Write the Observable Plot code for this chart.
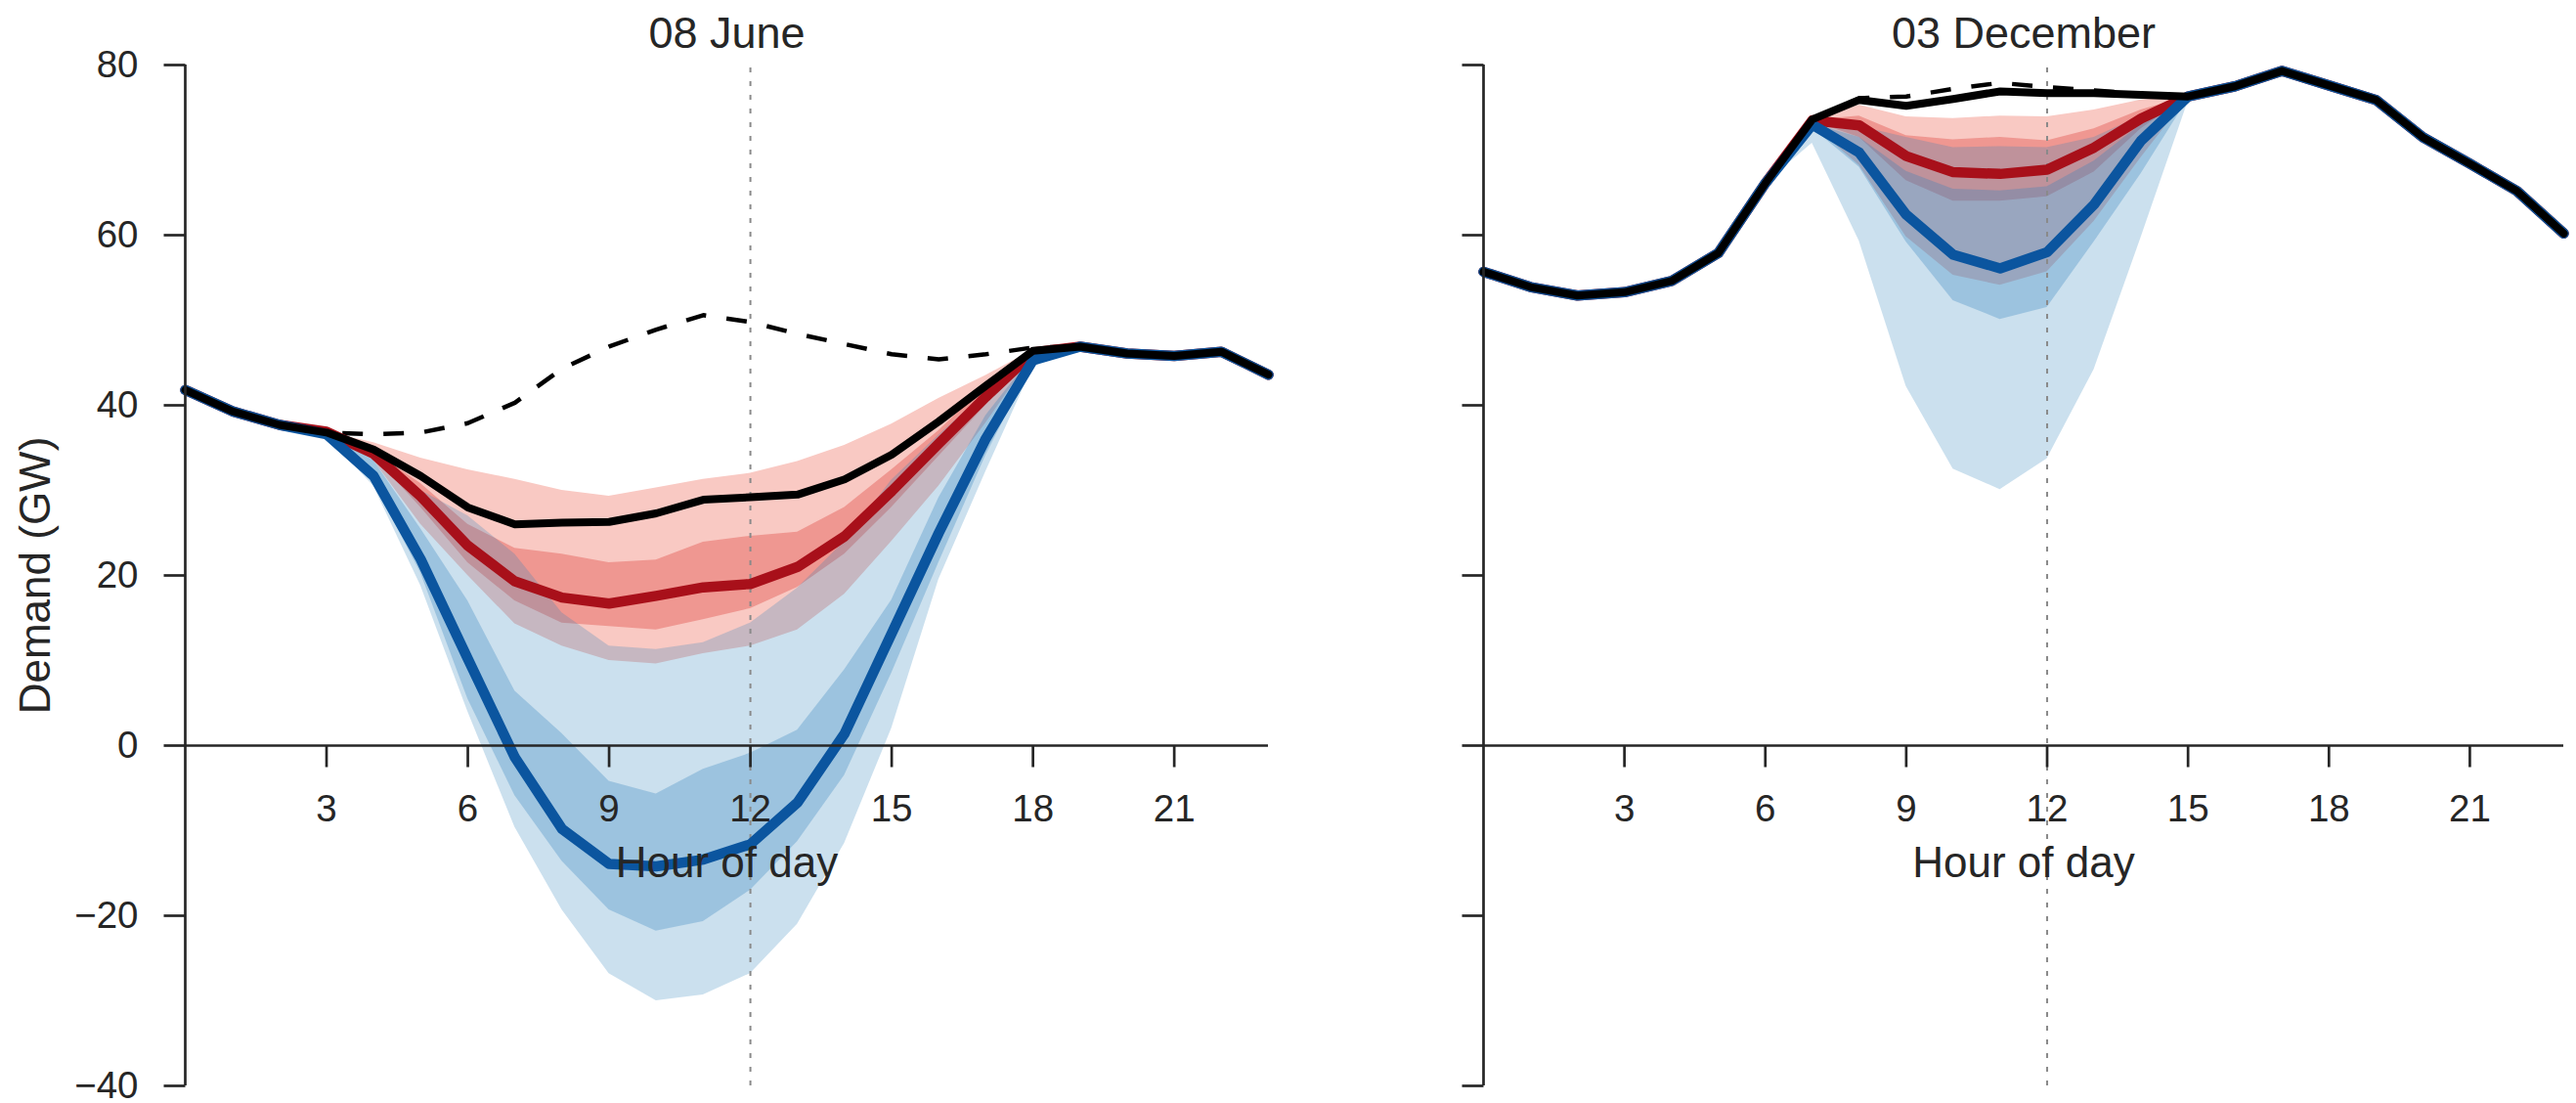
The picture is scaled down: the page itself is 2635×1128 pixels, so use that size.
<!DOCTYPE html>
<html>
<head>
<meta charset="utf-8">
<script src="https://cdn.jsdelivr.net/npm/d3@7"></script>
<script src="https://cdn.jsdelivr.net/npm/@observablehq/plot@0.6"></script>
<style>
  html, body { margin: 0; padding: 0; background: #fff; overflow: hidden; }
  #wrap { display: flex; width: 2635px; height: 1128px; }
  #wrap svg { display: block; }
</style>
</head>
<body>
<div id="wrap"></div>
<script>
// ---------- data ----------
const hours = d3.range(24);
const yTicks = [-40, -20, 0, 20, 40, 60, 80];
const xTicks = [3, 6, 9, 12, 15, 18, 21];
const noonMarker = [12];
const panelTitles = ["08 June", "03 December"];
const xLabel = "Hour of day";
const yLabel = "Demand (GW)";
const _ = null;

// 08 June
const juneBlack = [41.8,39.3,37.7,36.8,34.8,31.7,28.0,26.0,26.2,26.3,27.3,28.9,29.2,29.5,31.3,34.2,38.1,42.3,46.4,46.9,46.1,45.8,46.3,43.6];
const juneBase  = [41.8,39.3,37.7,36.8,36.6,36.8,37.9,40.3,44.3,46.9,48.9,50.6,49.8,48.4,47.2,46.0,45.4,46.0,46.8,46.9,46.1,45.8,46.3,43.6];
const juneRed   = [41.8,39.3,37.7,36.9,34.3,29.3,23.5,19.3,17.4,16.7,17.6,18.6,19.0,21.0,24.6,29.9,35.5,41.0,46.2,46.9,46.1,45.8,46.3,43.6];
const juneBlue  = [41.8,39.3,37.7,36.6,31.7,21.9,10.2,-1.4,-9.8,-13.9,-14.2,-13.4,-11.6,-6.7,1.4,13.2,25.0,36.1,45.3,46.9,46.1,45.8,46.3,43.6];
const juneRedOuterHi  = [_,_,_,36.9,35.6,33.8,32.4,31.3,30.0,29.3,30.3,31.3,32.0,33.4,35.3,37.8,40.8,43.5,46.5,46.9,_,_,_,_];
const juneRedInnerHi  = [_,_,_,36.9,34.6,30.8,26.0,23.2,22.5,21.5,21.8,23.9,24.6,25.1,28.0,32.4,37.0,42.3,46.4,46.9,_,_,_,_];
const juneRedInnerLo  = [_,_,_,36.9,34.0,28.0,21.5,17.0,14.4,14.0,13.6,14.8,16.1,18.6,22.5,28.0,34.0,40.0,46.0,46.9,_,_,_,_];
const juneRedOuterLo  = [_,_,_,36.9,33.5,26.0,20.0,14.3,11.7,10.0,9.6,10.8,11.7,13.6,17.8,24.0,30.5,37.9,45.8,46.9,_,_,_,_];
const juneBlueOuterHi = [_,_,_,36.8,34.5,30.0,27.0,22.5,15.6,11.7,11.3,12.1,14.4,18.5,24.0,31.2,36.5,41.5,46.3,46.9,_,_,_,_];
const juneBlueInnerHi = [_,_,_,36.7,33.5,25.5,17.0,6.4,1.4,-4.2,-5.7,-2.8,-0.9,1.8,8.9,17.1,29.1,38.8,45.8,46.9,_,_,_,_];
const juneBlueInnerLo = [_,_,_,36.5,31.0,20.3,5.5,-5.9,-13.6,-19.3,-21.8,-20.7,-17.0,-11.3,-3.5,8.5,21.5,34.1,45.0,46.9,_,_,_,_];
const juneBlueOuterLo = [_,_,_,36.4,30.5,18.8,4.0,-9.6,-19.3,-26.8,-30.0,-29.3,-26.8,-21.0,-11.5,2.0,19.5,32.2,44.5,46.9,_,_,_,_];

// 03 December
const decBlack = [55.7,53.9,52.9,53.3,54.6,57.9,66.1,73.6,75.9,75.2,76.0,76.9,76.7,76.7,76.5,76.3,77.5,79.3,77.6,75.9,71.5,68.4,65.2,60.2];
const decBase  = [55.7,53.9,52.9,53.3,54.6,57.9,66.1,73.6,76.1,76.3,77.2,77.9,77.4,77.0,76.6,76.3,77.5,79.3,77.6,75.9,71.5,68.4,65.2,60.2];
const decRed   = [55.7,53.9,52.9,53.3,54.6,57.9,66.1,73.5,72.9,69.3,67.4,67.2,67.7,70.3,73.7,76.3,77.5,79.3,77.6,75.9,71.5,68.4,65.2,60.2];
const decBlue  = [55.7,53.9,52.9,53.3,54.6,57.9,66.1,73.0,69.7,62.4,57.7,56.1,58.0,63.6,71.1,76.3,77.5,79.3,77.6,75.9,71.5,68.4,65.2,60.2];
const decRedOuterHi  = [_,_,_,_,_,_,66.1,73.6,75.3,73.9,73.7,74.0,73.9,74.7,75.9,76.3,_,_,_,_,_,_,_,_];
const decRedInnerHi  = [_,_,_,_,_,_,66.1,73.5,74.0,71.7,71.2,71.5,71.1,72.5,74.7,76.3,_,_,_,_,_,_,_,_];
const decRedInnerLo  = [_,_,_,_,_,_,66.1,73.4,71.5,66.4,64.0,64.0,64.5,67.4,72.5,76.3,_,_,_,_,_,_,_,_];
const decRedOuterLo  = [_,_,_,_,_,_,66.1,73.0,68.2,59.8,55.3,54.1,55.7,61.6,69.1,76.2,_,_,_,_,_,_,_,_];
const decBlueOuterHi = [_,_,_,_,_,_,66.1,73.3,72.8,71.5,70.3,70.4,70.3,71.5,74.0,76.3,_,_,_,_,_,_,_,_];
const decBlueInnerHi = [_,_,_,_,_,_,66.1,73.1,71.5,67.5,65.4,65.2,65.7,68.7,73.0,76.3,_,_,_,_,_,_,_,_];
const decBlueInnerLo = [_,_,_,_,_,_,66.1,72.6,68.0,59.2,52.3,50.1,51.5,59.2,67.2,76.0,_,_,_,_,_,_,_,_];
const decBlueOuterLo = [_,_,_,_,_,_,66.1,70.8,59.3,42.2,32.5,30.1,33.7,44.2,59.7,75.7,_,_,_,_,_,_,_,_];

// ---------- drawing ----------
const axisColor = "#262626";
const tickDown = { draw(ctx) { ctx.moveTo(0, 0); ctx.lineTo(0, 22); } };
const tickLeft = { draw(ctx) { ctx.moveTo(0, 0); ctx.lineTo(-22, 0); } };
const fmtY = d => d < 0 ? "\u2212" + Math.abs(d) : String(d);

function makePanel(cfg) {
  const rows = hours.map((h, i) => ({
    hour: h,
    black: cfg.black[i], base: cfg.base[i], red: cfg.red[i], blue: cfg.blue[i],
    roh: cfg.roh[i], rih: cfg.rih[i], ril: cfg.ril[i], rol: cfg.rol[i],
    boh: cfg.boh[i], bih: cfg.bih[i], bil: cfg.bil[i], bol: cfg.bol[i]
  }));
  const yMin = d3.min(yTicks), yMax = d3.max(yTicks);
  const marks = [
    Plot.areaY(rows.filter(d => d.rol != null), {x: "hour", y1: "rol", y2: "roh", fill: "#f9c9c3", curve: "linear"}),
    Plot.areaY(rows.filter(d => d.ril != null), {x: "hour", y1: "ril", y2: "rih", fill: "#ef9791", curve: "linear"}),
    Plot.areaY(rows.filter(d => d.bol != null), {x: "hour", y1: "bol", y2: "boh", fill: "#3182bd", fillOpacity: 0.25, curve: "linear"}),
    Plot.areaY(rows.filter(d => d.bil != null), {x: "hour", y1: "bil", y2: "bih", fill: "#3182bd", fillOpacity: 0.3, curve: "linear"}),
    Plot.ruleX(noonMarker, {x: d => d, y1: yMin, y2: yMax, stroke: "#8a8a8a", strokeWidth: 2, strokeDasharray: "5,9"}),
    Plot.line(rows, {x: "hour", y: "base", stroke: "#000", strokeWidth: 4.5, strokeDasharray: "21,21", strokeLinecap: "butt"}),
    Plot.line(rows, {x: "hour", y: "red", stroke: "#a8101a", strokeWidth: 10.5}),
    Plot.line(rows, {x: "hour", y: "blue", stroke: "#0b559f", strokeWidth: 10.5}),
    Plot.line(rows, {x: "hour", y: "black", stroke: "#000", strokeWidth: 8}),
    // axes
    Plot.ruleY([0], {stroke: axisColor, strokeWidth: 2.7}),
    Plot.ruleX([hours[0]], {y1: yMin, y2: yMax, stroke: axisColor, strokeWidth: 2.7}),
    Plot.dot(xTicks, {x: d => d, y: () => 0, symbol: tickDown, fill: "none", stroke: axisColor, strokeWidth: 2.7, strokeLinecap: "butt"}),
    Plot.text(xTicks, {x: d => d, y: () => 0, text: d => String(d), dy: 65, fontSize: 38.5, fill: axisColor}),
    Plot.dot(yTicks, {y: d => d, frameAnchor: "left", symbol: tickLeft, fill: "none", stroke: axisColor, strokeWidth: 2.7, strokeLinecap: "butt"}),
    Plot.text([xLabel], {y: () => 0, frameAnchor: "middle", textAnchor: "middle", lineAnchor: "middle", dy: 120, fontSize: 44, fill: axisColor}),
    Plot.text([cfg.title], {frameAnchor: "top", textAnchor: "middle", lineAnchor: "middle", dy: -32, fontSize: 45, fill: axisColor})
  ];
  if (cfg.showY) {
    marks.push(
      Plot.text(yTicks, {y: d => d, frameAnchor: "left", text: fmtY, textAnchor: "end", lineAnchor: "middle", dx: -48, fontSize: 38.5, fill: axisColor}),
      Plot.text([yLabel], {frameAnchor: "left", rotate: -90, textAnchor: "middle", lineAnchor: "middle", dx: -153, fontSize: 44, fill: axisColor})
    );
  }
  return Plot.plot({
    width: cfg.width,
    height: 1128,
    marginLeft: cfg.marginLeft,
    marginRight: cfg.marginRight,
    marginTop: 66,
    marginBottom: 18,
    x: {domain: [hours[0], hours[hours.length - 1]], axis: null},
    y: {domain: [yMin, yMax], axis: null},
    style: {fontFamily: "'Liberation Sans', Arial, Helvetica, sans-serif", background: "#fff", overflow: "visible"},
    marks
  });
}

const wrap = document.getElementById("wrap");
wrap.appendChild(makePanel({
  title: panelTitles[0], width: 1320, marginLeft: 189, marginRight: 23, showY: true,
  black: juneBlack, base: juneBase, red: juneRed, blue: juneBlue,
  roh: juneRedOuterHi, rih: juneRedInnerHi, ril: juneRedInnerLo, rol: juneRedOuterLo,
  boh: juneBlueOuterHi, bih: juneBlueInnerHi, bil: juneBlueInnerLo, bol: juneBlueOuterLo
}));
wrap.appendChild(makePanel({
  title: panelTitles[1], width: 1315, marginLeft: 197, marginRight: 13, showY: false,
  black: decBlack, base: decBase, red: decRed, blue: decBlue,
  roh: decRedOuterHi, rih: decRedInnerHi, ril: decRedInnerLo, rol: decRedOuterLo,
  boh: decBlueOuterHi, bih: decBlueInnerHi, bil: decBlueInnerLo, bol: decBlueOuterLo
}));
</script>
</body>
</html>
